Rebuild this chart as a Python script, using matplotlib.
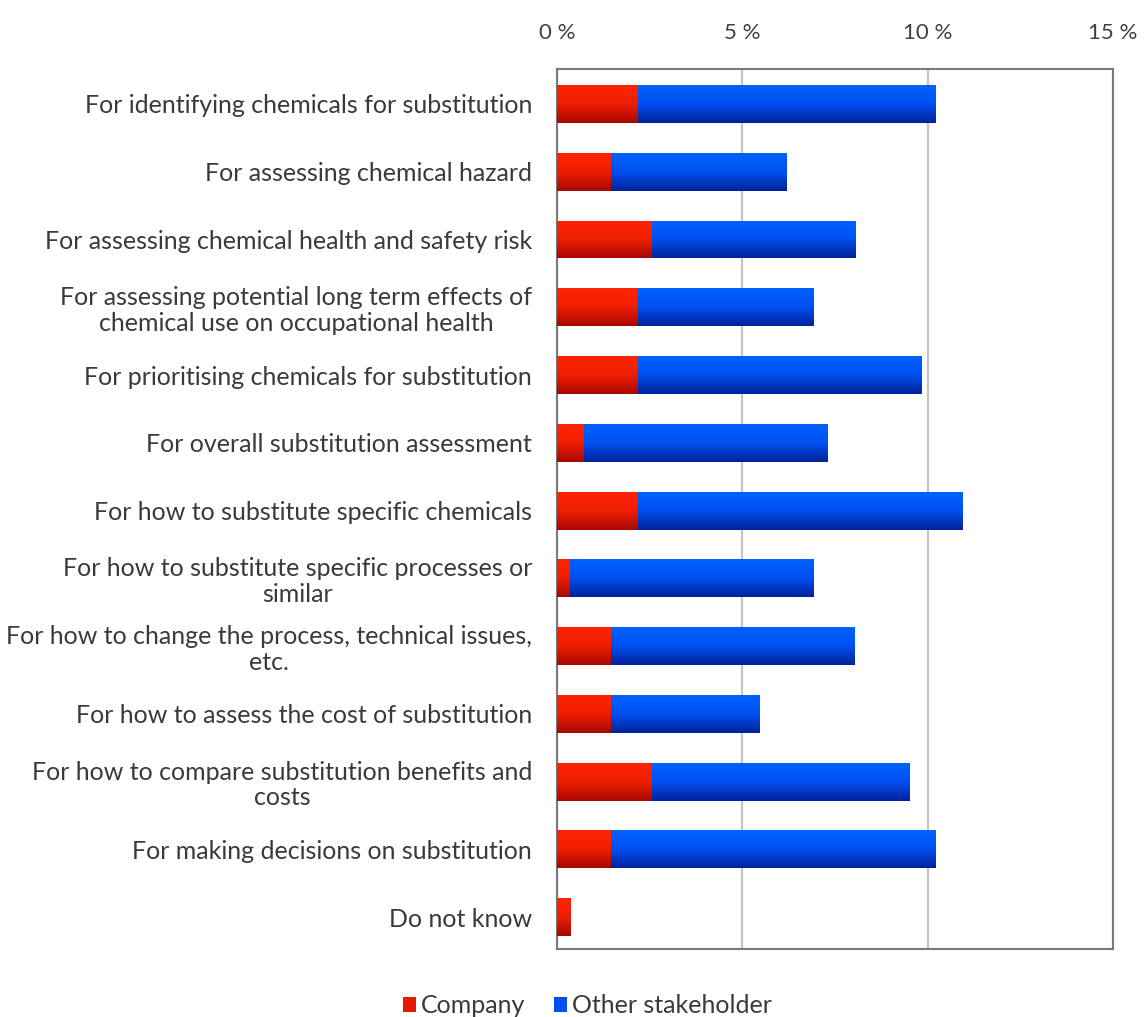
import numpy as np
import matplotlib
matplotlib.use("Agg")
import matplotlib.pyplot as plt
from matplotlib.colors import LinearSegmentedColormap
from matplotlib.patches import Patch

categories = [
    "For identifying chemicals for substitution",
    "For assessing chemical hazard",
    "For assessing chemical health and safety risk",
    "For assessing potential long term effects of\nchemical use on occupational health",
    "For prioritising chemicals for substitution",
    "For overall substitution assessment",
    "For how to substitute specific chemicals",
    "For how to substitute specific processes or\nsimilar",
    "For how to change the process, technical issues,\netc.",
    "For how to assess the cost of substitution",
    "For how to compare substitution benefits and\ncosts",
    "For making decisions on substitution",
    "Do not know",
]
company = [2.19, 1.46, 2.55, 2.19, 2.19, 0.73, 2.19, 0.36, 1.46, 1.46, 2.55, 1.46, 0.36]
other_stakeholder = [8.03, 4.74, 5.48, 4.74, 7.66, 6.57, 8.76, 6.57, 6.57, 4.01, 6.94, 8.76, 0.0]
series_names = ["Company", "Other stakeholder"]
x_ticks = [0, 5, 10, 15]
x_tick_labels = ["0 %", "5 %", "10 %", "15 %"]

plt.rcParams["font.family"] = ["Lato", "DejaVu Sans"]

fig = plt.figure(figsize=(11.45, 10.17), dpi=100)
ax = fig.add_axes([0.4865, 0.0669, 0.4855, 0.8653])

y = np.arange(len(categories))
bar_h = 0.56
red_solid = "#e01a00"
blue_solid = "#0046e0"
b1 = ax.barh(y, company, height=bar_h, color=red_solid, zorder=3)
b2 = ax.barh(y, other_stakeholder, left=company, height=bar_h, color=blue_solid, zorder=3)

# vertical shading inside each bar: light at the top, dark at the bottom
red_cmap = LinearSegmentedColormap.from_list("r", ["#ff2400", "#ee1e00", "#a80800"])
blue_cmap = LinearSegmentedColormap.from_list("b", ["#0062ff", "#0050f0", "#00229a"])
grad = np.linspace(0, 1, 64).reshape(-1, 1)
for bars, cmap in ((b1, red_cmap), (b2, blue_cmap)):
    for p in bars:
        if p.get_width() <= 0:
            continue
        x0, y0 = p.get_x(), p.get_y()
        w, h = p.get_width(), p.get_height()
        im = ax.imshow(grad, cmap=cmap, aspect="auto",
                       extent=(x0, x0 + w, y0 + h, y0), origin="upper",
                       zorder=4, interpolation="bilinear")
        im.set_clip_path(p)

ax.set_xlim(0, 15)
ax.set_ylim(len(categories) - 1 + 0.47, -0.517)
ax.set_aspect("auto")
ax.set_xticks(x_ticks)
ax.set_xticklabels(x_tick_labels)
ax.xaxis.tick_top()
ax.tick_params(axis="x", length=0, pad=19, labelsize=16, labelcolor="#404040")
ax.set_yticks(y)
ax.set_yticklabels(categories, multialignment="center", linespacing=1.15)
ax.tick_params(axis="y", length=0, pad=18, labelsize=18, labelcolor="#3a3a3a")

ax.grid(axis="x", color="#c4c4c4", linewidth=1.6, zorder=0)
ax.set_axisbelow(True)
for s in ax.spines.values():
    s.set_color("#7a7a7a")
    s.set_linewidth(1.5)

handles = [Patch(facecolor="#e41a00", edgecolor="none"),
           Patch(facecolor="#0050f0", edgecolor="none")]
fig.legend(handles, series_names, loc="center", bbox_to_anchor=(0.513, 0.011),
           ncol=2, frameon=False, fontsize=18, handlelength=0.5, handleheight=0.5,
           handletextpad=0.2, columnspacing=1.15, labelcolor="#3a3a3a")

fig.savefig("out.png", dpi=100, facecolor="white")
